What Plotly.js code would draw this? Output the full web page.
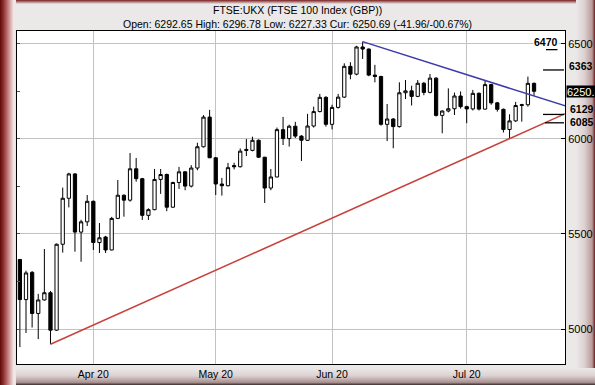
<!DOCTYPE html>
<html><head><meta charset="utf-8">
<script src="https://cdn.plot.ly/plotly-3.0.1.min.js"></script>
<style>
html,body{margin:0;padding:0;background:#ebe8e8;}
#wrap{position:relative;width:595px;height:385px;overflow:hidden;background:#ebe8e8;}
.fr{position:absolute;}
#chart{position:absolute;left:0;top:0;width:595px;height:385px;}
</style></head><body>
<div id="wrap">
<div class="fr" style="left:0;top:0;width:595px;height:4px;background:linear-gradient(to bottom,#7a1e1e,#ebe8e8);"></div>
<div class="fr" style="left:576px;top:0;width:19px;height:385px;background:linear-gradient(to right,#ebe8e8 0%,#ddd0d0 45%,#b89a9a 85%,#6e1a1a 100%);"></div>
<div class="fr" style="left:0;top:368px;width:595px;height:17px;background:linear-gradient(to bottom,#ebe8e8 0%,#ddd2d2 45%,#a89090 85%,#3a2a2a 100%);"></div>
<div class="fr" style="left:0;top:0;width:16px;height:385px;background:linear-gradient(to right,#5e0c0c 0%,#8e2a2a 20%,#c98c8c 55%,#f1e6e6 85%,#ebe8e8 100%);"></div>
<div id="chart"></div>
</div>
<script>
// ---- data ----
const dates = [
 '2020-03-16','2020-03-17','2020-03-18','2020-03-19','2020-03-20','2020-03-23','2020-03-24','2020-03-25','2020-03-26','2020-03-27','2020-03-30','2020-03-31',
 '2020-04-01','2020-04-02','2020-04-03','2020-04-06','2020-04-07','2020-04-08','2020-04-09','2020-04-14','2020-04-15','2020-04-16','2020-04-17','2020-04-20','2020-04-21','2020-04-22','2020-04-23','2020-04-24','2020-04-27','2020-04-28','2020-04-29','2020-04-30',
 '2020-05-01','2020-05-04','2020-05-05','2020-05-06','2020-05-07','2020-05-11','2020-05-12','2020-05-13','2020-05-14','2020-05-15','2020-05-18','2020-05-19','2020-05-20','2020-05-21','2020-05-22','2020-05-26','2020-05-27','2020-05-28','2020-05-29',
 '2020-06-01','2020-06-02','2020-06-03','2020-06-04','2020-06-05','2020-06-08','2020-06-09','2020-06-10','2020-06-11','2020-06-12','2020-06-15','2020-06-16','2020-06-17','2020-06-18','2020-06-19','2020-06-22','2020-06-23','2020-06-24','2020-06-25','2020-06-26','2020-06-29','2020-06-30',
 '2020-07-01','2020-07-02','2020-07-03','2020-07-06','2020-07-07','2020-07-08','2020-07-09','2020-07-10','2020-07-13','2020-07-14','2020-07-15','2020-07-16'];
const openP = [5366,5155,5298,5082,5153,5191,4994,5446,5688,5816,5510,5564,
 5672,5455,5484,5416,5582,5704,5678,5843,5791,5598,5628,5787,5813,5641,5771,5827,5752,5847,5959,6115,
 5901,5763,5754,5860,5854,5945,5940,5993,5904,5742,5800,6049,6002,6067,6015,5993,6068,6144,6219,
 6077,6166,6220,6382,6341,6484,6473,6336,6329,6077,6105,6065,6243,6253,6224,6293,6245,6320,6124,6147,6159,6226,
 6170,6158,6240,6157,6286,6190,6156,6050,6095,6176,6180,6292.65];
const highP = [5368,5307,5305,5185,5421,5200,5450,5744,5822,5820,5575,5705,
 5676,5558,5490,5590,5784,5708,5926,5900,5795,5635,5842,5842,5818,5775,5853,5830,5862,5980,6125,6153,
 5905,5795,5874,5875,5950,6000,6012,5998,5906,5842,6060,6116,6075,6090,6020,6132,6170,6237,6225,
 6180,6237,6398,6404,6490,6512,6476,6390,6332,6184,6110,6298,6310,6280,6310,6300,6342,6325,6150,6266,6244,6250,
 6175,6258,6245,6307,6290,6195,6160,6130,6195,6185,6328,6296.78];
const lowP = [4905,4979,5008,4947,5150,4920,4990,5402,5640,5407,5354,5542,
 5416,5400,5400,5414,5578,5591,5670,5775,5574,5574,5625,5711,5620,5638,5737,5730,5745,5835,5955,5900,
 5705,5702,5750,5840,5850,5910,5935,5900,5663,5730,5798,5968,5960,6005,5884,5990,6060,6140,6065,
 6050,6160,6215,6314,6335,6421,6330,6298,6070,5989,5951,6060,6210,6176,6220,6230,6240,6118,6030,6140,6126,6160,
 6083,6150,6150,6155,6180,6144,6034,6004,6090,6091,6170,6227.33];
const closeP = [5155,5295,5082,5153,5191,4994,5446,5688,5816,5510,5564,5672,
 5455,5480,5416,5582,5704,5678,5843,5791,5598,5628,5787,5813,5641,5771,5827,5752,5847,5959,6115,5901,
 5763,5754,5849,5854,5936,5940,5993,5904,5742,5800,6049,6002,6067,6015,5993,6068,6144,6219,6077,
 6166,6220,6382,6341,6484,6473,6336,6329,6077,6105,6065,6243,6253,6224,6293,6245,6320,6124,6147,6159,6226,6170,
 6158,6240,6157,6286,6190,6156,6050,6095,6176,6180,6292.65,6250.69];
const monthStarts = ['2020-04','2020-05','2020-06','2020-07'];
const monthLabels = ['Apr 20','May 20','Jun 20','Jul 20'];
const yTicks = [5000,5500,6000,6500];
const levels = [6470,6363,6129,6085];
const curLabel = '6250.';
// trend lines: [bar index, value]
const redTrendX = [5, 90];
const redTrendY = [4920, 6146];
const blueTrendX = [56, 90];
const blueTrendY = [6512, 6165];
const titleText = 'FTSE:UKX (FTSE 100 Index (GBP))';
const infoText = 'Open: 6292.65 High: 6296.78 Low: 6227.33 Cur: 6250.69 (-41.96/-00.67%)';

// ---- chart ----
const idx = dates.map((d,i)=>i);
const tickIdx = monthStarts.map(m => dates.findIndex(d => d.startsWith(m)));
const W=595,H=385,L=17,R=565,T=31,B=364;
const px = x => (x-L)/(R-L);
const py = y => (B-y)/(B-T);
const yr=[4816,6568];

const traces = [
 {type:'candlestick', x:idx, open:openP, high:highP, low:lowP, close:closeP,
  increasing:{line:{color:'#000',width:1}, fillcolor:'#ffffff'},
  decreasing:{line:{color:'#000',width:1}, fillcolor:'#000000'},
  whiskerwidth:0, hoverinfo:'skip', showlegend:false},
 {type:'scatter', mode:'lines', x:redTrendX, y:redTrendY, line:{color:'#c8423c',width:1.5}, hoverinfo:'skip'},
 {type:'scatter', mode:'lines', x:blueTrendX, y:blueTrendY, line:{color:'#3c3ca8',width:1.5}, hoverinfo:'skip'},
 {type:'scatter', mode:'markers', x:[0], y:[5000], yaxis:'y2', marker:{opacity:0}, hoverinfo:'skip'}
];

const bold = {family:'Liberation Sans, Arial, sans-serif', size:10.5, color:'#000', weight:'bold'};
const annotations = [
 {xref:'paper',yref:'paper',x:px(297.5),y:py(10),text:titleText,showarrow:false,xanchor:'center',yanchor:'middle',font:{size:10.5}},
 {xref:'paper',yref:'paper',x:px(297.5),y:py(24),text:infoText,showarrow:false,xanchor:'center',yanchor:'middle',font:{size:10.5}},
 {xref:'paper',yref:'y',x:px(558.5),y:levels[0],yshift:7.5,text:'<b>'+levels[0]+'</b>',showarrow:false,xanchor:'right',yanchor:'middle',font:bold,bgcolor:'#ffffff',borderpad:0},
 {xref:'paper',yref:'y',x:px(566.5),y:levels[1],yshift:3.5,text:'<b>'+levels[1]+'</b>',showarrow:false,xanchor:'left',yanchor:'middle',font:bold},
 {xref:'paper',yref:'y',x:px(567.5),y:levels[2],yshift:5.5,text:'<b>'+levels[2]+'</b>',showarrow:false,xanchor:'left',yanchor:'middle',font:bold},
 {xref:'paper',yref:'y',x:px(567.5),y:levels[3],yshift:1,text:'<b>'+levels[3]+'</b>',showarrow:false,xanchor:'left',yanchor:'middle',font:bold},
 {xref:'paper',yref:'y',x:px(565.5),y:closeP[closeP.length-1],text:curLabel,showarrow:false,xanchor:'left',yanchor:'middle',
  width:28,align:'left',height:11,font:{size:11,color:'#ffffff'},bgcolor:'#000000',borderpad:0}
];
const barX = [[546,557.5],[543,564],[543,564],[545,564]];
const shapes = levels.map((v,i)=>({type:'line',xref:'paper',yref:'y',x0:px(barX[i][0]),x1:px(barX[i][1]),y0:v,y1:v,line:{color:'#000',width:1.3}}));

const layout = {
 width:W,height:H,
 margin:{l:L,r:W-R,t:T,b:H-B,pad:0},
 paper_bgcolor:'rgba(0,0,0,0)', plot_bgcolor:'#ffffff',
 showlegend:false, hovermode:false, boxgap:0.24,
 font:{family:'Liberation Sans, Arial, sans-serif',size:11,color:'#000'},
 xaxis:{range:[-0.47,89.06], rangeslider:{visible:false}, tickmode:'array', tickvals:tickIdx, ticktext:monthLabels,
  showgrid:true, gridcolor:'#c2c2c2', gridwidth:1, showline:true, linecolor:'#000', linewidth:1, mirror:true,
  ticks:'', tickfont:{size:10.5}, zeroline:false, fixedrange:true, automargin:false},
 yaxis:{side:'right', range:yr, tickmode:'array', tickvals:yTicks, showgrid:true, gridcolor:'#c2c2c2', gridwidth:1,
  showline:true, linecolor:'#000', linewidth:1, mirror:true, ticks:'inside', ticklen:4, tickcolor:'#000',
  zeroline:false, tickfont:{size:11}, automargin:false, fixedrange:true},
 yaxis2:{overlaying:'y', side:'left', range:yr, tick0:5000, dtick:250, ticks:'inside', ticklen:3, tickcolor:'#555',
  showticklabels:false, showgrid:false, zeroline:false, showline:false, fixedrange:true},
 annotations:annotations, shapes:shapes
};
Plotly.newPlot('chart', traces, layout, {staticPlot:true, displayModeBar:false});
</script>
</body></html>
